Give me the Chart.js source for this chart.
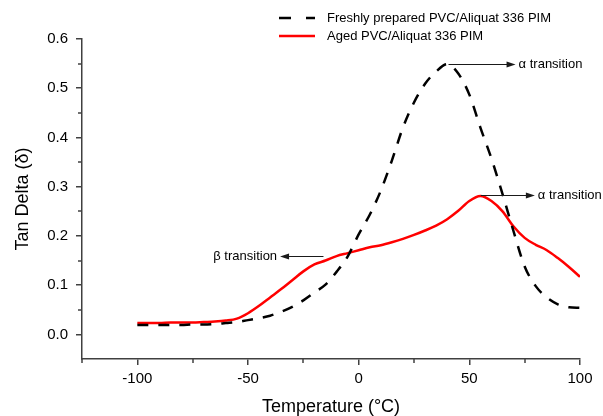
<!DOCTYPE html>
<html>
<head>
<meta charset="utf-8">
<script src="https://cdn.jsdelivr.net/npm/chart.js@4/dist/chart.umd.min.js"></script>
<style>
  html, body { margin: 0; padding: 0; background: #ffffff; }
  canvas { display: block; }
</style>
</head>
<body>
<canvas id="c" width="603" height="416"></canvas>
<script>
// ---- Data ----
const temperatures = [-100,-95,-90,-85,-80,-75,-70,-65,-60,-55,-50,-45,-40,-35,-30,-25,-20,-15,-10,-5,0,5,10,15,20,25,30,35,40,45,50,55,60,65,70,75,80,85,90,95,100];
const freshTanDelta = [0.019,0.019,0.019,0.019,0.019,0.020,0.020,0.021,0.023,0.025,0.029,0.033,0.038,0.046,0.056,0.069,0.085,0.101,0.127,0.158,0.203,0.243,0.292,0.353,0.420,0.471,0.509,0.534,0.549,0.530,0.487,0.420,0.357,0.285,0.209,0.138,0.098,0.075,0.061,0.055,0.054];
const agedTanDelta  = [0.023,0.023,0.023,0.024,0.024,0.024,0.025,0.026,0.028,0.032,0.043,0.058,0.075,0.092,0.110,0.128,0.142,0.150,0.159,0.165,0.171,0.177,0.181,0.187,0.194,0.202,0.211,0.221,0.234,0.251,0.271,0.281,0.271,0.250,0.219,0.196,0.182,0.171,0.155,0.137,0.117];
const seriesLabels = ['Freshly prepared PVC/Aliquat 336 PIM', 'Aged PVC/Aliquat 336 PIM'];
const xMajorTicks = [-100, -50, 0, 50, 100];
const xMinorTicks = [-125, -75, -25, 25, 75];
const yMajorTicks = [0.0, 0.1, 0.2, 0.3, 0.4, 0.5, 0.6];
const yMinorTicks = [0.05, 0.15, 0.25, 0.35, 0.45, 0.55];
const transitionLabels = ['\u03B1 transition', '\u03B1 transition', '\u03B2 transition'];
// annotation anchors in data units: [arrow start T, arrow end T, value]
const transitionAnchors = [[40.6, 70.9, 0.550], [55.2, 79.6, 0.283], [-15.9, -35.5, 0.159]];

const FONT = "'Liberation Sans', Arial, sans-serif";
const AXIS_COLOR = '#404040';

const toPoints = (ys) => temperatures.map((t, i) => ({ x: t, y: ys[i] }));

const decorPlugin = {
  id: 'decor',
  afterDraw(chart) {
    const ctx = chart.ctx;
    const xs = chart.scales.x, ys = chart.scales.y;
    ctx.save();
    // minor ticks
    ctx.strokeStyle = AXIS_COLOR;
    ctx.lineWidth = 1.5;
    xMinorTicks.forEach(v => {
      const px = Math.round(xs.getPixelForValue(v));
      ctx.beginPath();
      ctx.moveTo(px, ys.bottom);
      ctx.lineTo(px, ys.bottom + 4);
      ctx.stroke();
    });
    yMinorTicks.forEach(v => {
      const py = Math.round(ys.getPixelForValue(v));
      ctx.beginPath();
      ctx.moveTo(xs.left, py);
      ctx.lineTo(xs.left - 4, py);
      ctx.stroke();
    });

    // transition arrows
    ctx.font = '13px ' + FONT;
    ctx.textBaseline = 'middle';
    transitionAnchors.forEach((a, i) => {
      const x0 = xs.getPixelForValue(a[0]);
      const x1 = xs.getPixelForValue(a[1]);
      const y = Math.round(ys.getPixelForValue(a[2])) + 0.5;
      const dir = x1 > x0 ? 1 : -1;
      ctx.strokeStyle = '#1a1a1a';
      ctx.fillStyle = '#1a1a1a';
      ctx.lineWidth = 1;
      ctx.beginPath();
      ctx.moveTo(x0, y);
      ctx.lineTo(x1 - dir * 6, y);
      ctx.stroke();
      ctx.beginPath();
      ctx.moveTo(x1, y);
      ctx.lineTo(x1 - dir * 9, y - 3);
      ctx.lineTo(x1 - dir * 9, y + 3);
      ctx.closePath();
      ctx.fill();
      ctx.fillStyle = '#000';
      ctx.textAlign = dir > 0 ? 'left' : 'right';
      ctx.fillText(transitionLabels[i], x1 + dir * 3, y);
    });

    // legend
    ctx.font = '13px ' + FONT;
    ctx.textAlign = 'left';
    ctx.textBaseline = 'middle';
    chart.data.datasets.forEach((ds, i) => {
      const y = 18 + i * 18;
      ctx.strokeStyle = ds.borderColor;
      ctx.lineWidth = ds.borderWidth;
      ctx.setLineDash(i === 0 ? [12, 15] : []);
      ctx.beginPath();
      ctx.moveTo(279, y);
      ctx.lineTo(315, y);
      ctx.stroke();
      ctx.setLineDash([]);
      ctx.fillStyle = '#000';
      ctx.fillText(ds.label, 327, y);
    });
    ctx.restore();
  }
};

new Chart(document.getElementById('c'), {
  type: 'line',
  data: {
    datasets: [
      {
        label: seriesLabels[0],
        data: toPoints(freshTanDelta),
        borderColor: '#000000',
        borderWidth: 2.5,
        borderDash: [11, 10],
        pointRadius: 0,
        cubicInterpolationMode: 'monotone',
        fill: false
      },
      {
        label: seriesLabels[1],
        data: toPoints(agedTanDelta),
        borderColor: '#ff0000',
        borderWidth: 2.5,
        pointRadius: 0,
        cubicInterpolationMode: 'monotone',
        fill: false
      }
    ]
  },
  options: {
    responsive: false,
    animation: false,
    layout: { padding: { top: 39, right: 23, left: 0, bottom: 0 } },
    plugins: { legend: { display: false }, tooltip: { enabled: false } },
    scales: {
      x: {
        type: 'linear',
        min: -125,
        max: 100,
        afterBuildTicks: (s) => { s.ticks = xMajorTicks.map(v => ({ value: v })); },
        afterFit: (s) => { s.height = 57; },
        ticks: {
          color: '#000',
          font: { family: FONT, size: 15 },
          padding: 5,
          maxRotation: 0,
          callback: (v) => String(v)
        },
        grid: { drawOnChartArea: false, drawTicks: true, tickLength: 6, color: AXIS_COLOR, lineWidth: 1.5 },
        border: { display: true, color: AXIS_COLOR, width: 1.5 },
        title: {
          display: true,
          text: 'Temperature (\u00B0C)',
          color: '#000',
          font: { family: FONT, size: 18 },
          padding: { top: 0, bottom: -2 }
        }
      },
      y: {
        type: 'linear',
        min: -0.05,
        max: 0.6,
        afterBuildTicks: (s) => { s.ticks = yMajorTicks.map(v => ({ value: v })); },
        afterFit: (s) => { s.width = 82; },
        ticks: {
          color: '#000',
          font: { family: FONT, size: 15 },
          padding: 8,
          callback: (v) => Number(v).toFixed(1)
        },
        grid: { drawOnChartArea: false, drawTicks: true, tickLength: 6, color: AXIS_COLOR, lineWidth: 1.5 },
        border: { display: true, color: AXIS_COLOR, width: 1.5 },
        title: {
          display: true,
          text: 'Tan Delta (\u03B4)',
          color: '#000',
          font: { family: FONT, size: 18 },
          padding: { top: 12, bottom: 0 }
        }
      }
    }
  },
  plugins: [decorPlugin]
});
</script>
</body>
</html>
